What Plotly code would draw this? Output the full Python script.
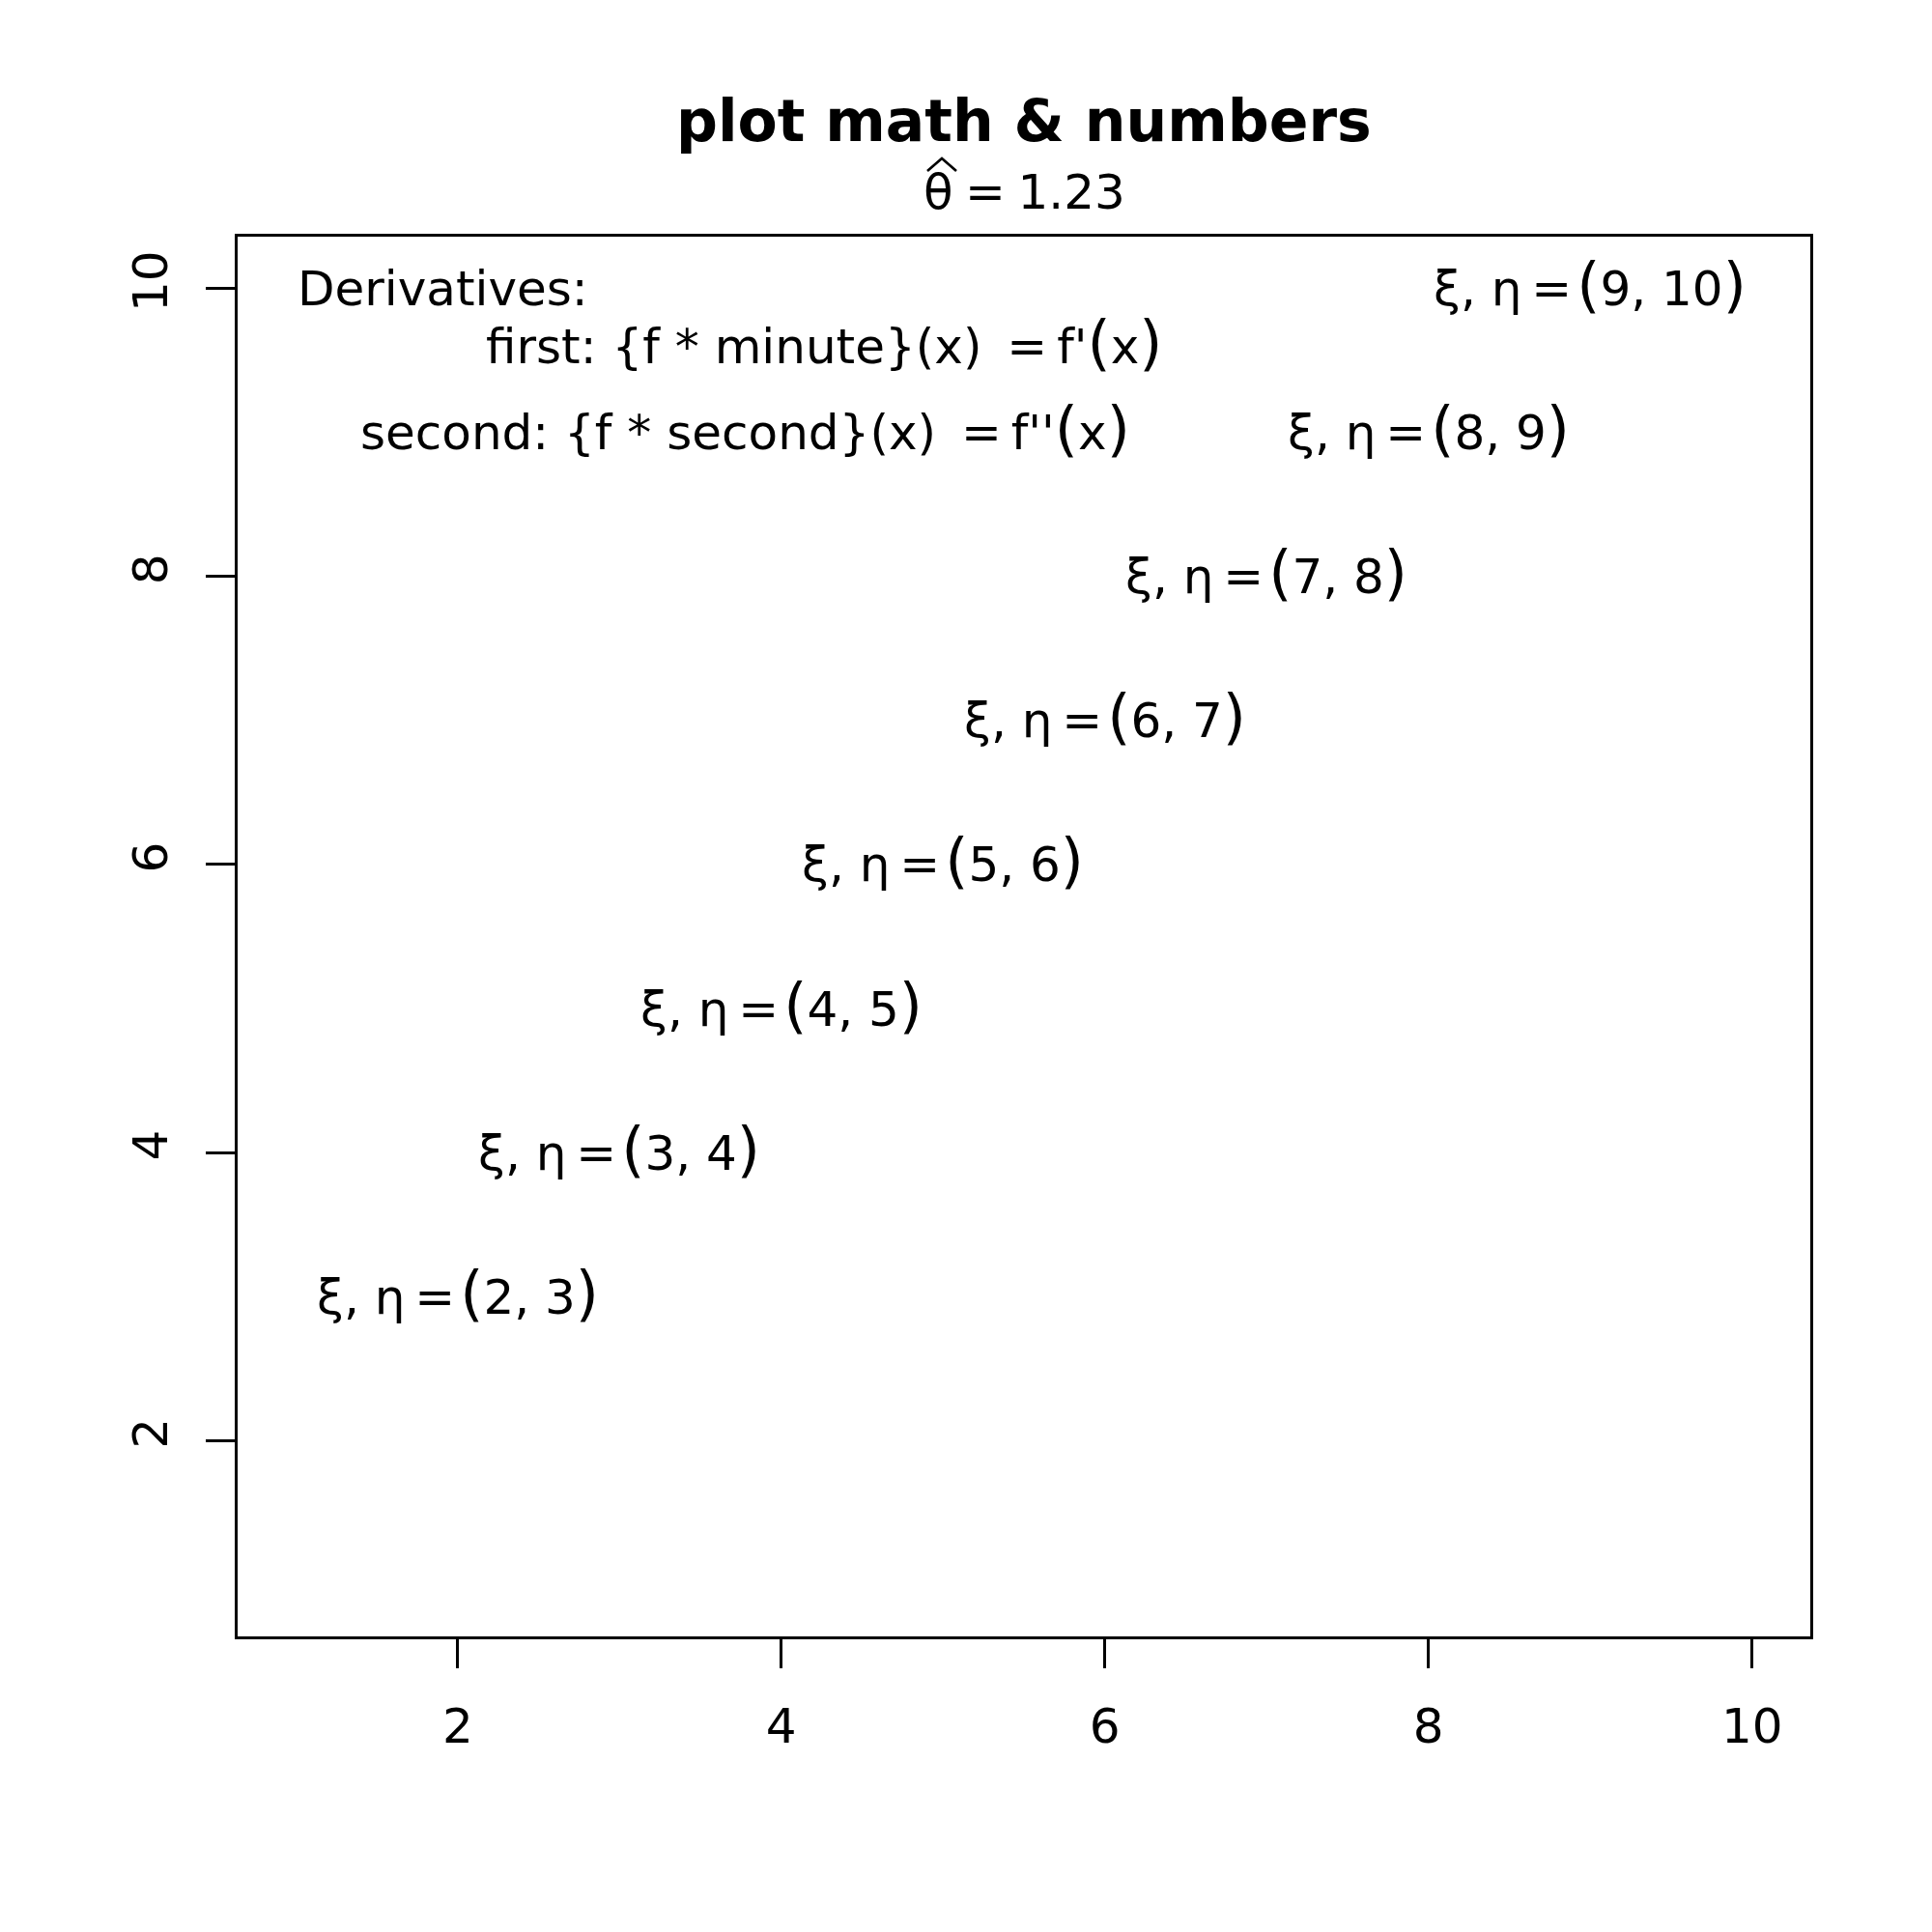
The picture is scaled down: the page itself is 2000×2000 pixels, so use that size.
import plotly.graph_objects as go

# data
xi_vals = [2, 3, 4, 5, 6, 7, 8, 9]
eta_vals = [3, 4, 5, 6, 7, 8, 9, 10]
x_ticks = [2, 4, 6, 8, 10]
y_ticks = [2, 4, 6, 8, 10]
deriv_header = "Derivatives:"
deriv_header_pos = (1, 10)
deriv_pos_x = [4.27, 3.78]
deriv_pos_y = [9.6, 9.0]
title_text = "plot math & numbers"
theta_hat = 1.23

FONT = "DejaVu Sans"
BIG = '<span style="font-size:62px">{}</span>'
THIN = "\u2009"
HAIR = "\u200A"
FOUR = "\u2005"

def paren(s):
    return BIG.format("(") + s + BIG.format(")")

fig = go.Figure()
# invisible trace to set up the scales
fig.add_trace(go.Scatter(x=xi_vals, y=eta_vals, mode="markers",
                         marker=dict(opacity=0), hoverinfo="skip", showlegend=False))

ann = []
for a, b in zip(xi_vals, eta_vals):
    txt = "ξ, η" + THIN + "=" + HAIR + paren(f"{a}, {b}")
    ann.append(dict(x=a, y=b, xref="x", yref="y", text=txt, showarrow=False,
                    xanchor="center", yanchor="middle", yshift=4,
                    font=dict(family=FONT, size=50, color="black")))

ann.append(dict(x=deriv_header_pos[0], y=deriv_header_pos[1], xref="x", yref="y",
                text=deriv_header, showarrow=False, xanchor="left", yanchor="middle",
                font=dict(family=FONT, size=50, color="black")))

deriv_texts = [
    "first: {f * minute}(x) " + THIN + "=" + THIN + "f'" + paren("x"),
    "second: {f * second}(x) " + THIN + "=" + THIN + "f''" + paren("x"),
]
for t, x, y in zip(deriv_texts, deriv_pos_x, deriv_pos_y):
    ann.append(dict(x=x, y=y, xref="x", yref="y", text=t, showarrow=False,
                    xanchor="center", yanchor="middle", yshift=4,
                    font=dict(family=FONT, size=50, color="black")))

ann.append(dict(x=0.5, y=1, xref="paper", yref="paper", text=f"<b>{title_text}</b>",
                showarrow=False, xanchor="center", yanchor="middle", yshift=120,
                font=dict(family=FONT, size=60, color="black")))
ann.append(dict(x=0.5, y=1, xref="paper", yref="paper", text=f"θ{FOUR}={FOUR}{theta_hat}",
                showarrow=False, xanchor="center", yanchor="middle", yshift=46,
                font=dict(family=FONT, size=50, color="black")))

# hat over theta, drawn as a small path anchored at the top centre of the plot
fig.add_shape(type="path", xref="paper", yref="paper", xsizemode="pixel", ysizemode="pixel",
              xanchor=0.5, yanchor=1, path="M -100 68 L -85 81 L -70 68",
              line=dict(color="black", width=2.6))

axis_common = dict(showline=True, linecolor="black", linewidth=2.7, mirror=True,
                   ticks="outside", ticklen=30, tickwidth=2.7, tickcolor="black",
                   showgrid=False, zeroline=False,
                   tickfont=dict(family=FONT, size=50, color="black"))

fig.update_layout(
    width=2000, height=2000,
    margin=dict(l=246, r=126, t=245, b=306),
    paper_bgcolor="white", plot_bgcolor="white",
    annotations=ann,
    xaxis=dict(range=[0.64, 10.36], tickvals=x_ticks, ticktext=[str(v) for v in x_ticks],
               ticklabelstandoff=17, **axis_common),
    yaxis=dict(range=[0.64, 10.36], tickvals=y_ticks, ticktext=[str(v) for v in y_ticks],
               tickangle=-90, ticklabelstandoff=20, **axis_common),
)

fig.write_html("out.html")
